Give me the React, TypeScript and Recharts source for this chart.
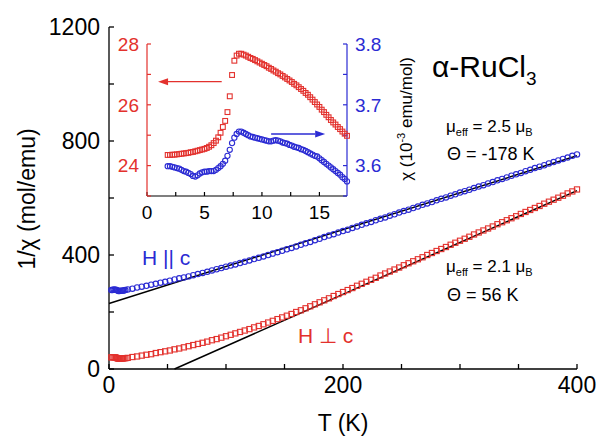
import React from 'react';
import { ComposedChart, Scatter, Line, XAxis, YAxis, ReferenceLine } from 'recharts';

const FONT = '"Liberation Sans", Arial, sans-serif';
const RED = '#e3312d';
const BLUE = '#2b2bd3';

// ── main panel: 1/chi vs T ────────────────────────────────────────────────
const mainT = [
  2, 3, 4, 5, 6, 7, 8, 9, 10, 11, 12, 13, 14,
  16, 20, 24, 28, 32, 36, 40, 44, 48, 52, 56, 60, 64, 68, 72, 76, 80, 84, 88, 92, 96,
  100, 104, 108, 112, 116, 120, 124, 128, 132, 136, 140, 144, 148, 152, 156, 160, 164, 168, 172, 176,
  180, 184, 188, 192, 196, 200, 204, 208, 212, 216, 220, 224, 228, 232, 236, 240, 244, 248, 252, 256,
  260, 264, 268, 272, 276, 280, 284, 288, 292, 296, 300, 304, 308, 312, 316, 320, 324, 328, 332, 336,
  340, 344, 348, 352, 356, 360, 364, 368, 372, 376, 380, 384, 388, 392, 396, 400,
];
// H || c
const invChiPara = [
  277, 277, 279, 278, 278, 276, 274, 274, 275, 275, 275, 276, 277,
  279, 282, 286, 289, 292, 296, 299, 303, 306, 310, 314, 318, 321, 325, 329, 333, 337, 341, 346, 350, 354,
  359, 363, 367, 372, 376, 381, 386, 390, 395, 400, 405, 410, 415, 420, 425, 430, 436, 441, 446, 452,
  457, 463, 468, 473, 479, 484, 489, 495, 500, 506, 511, 516, 522, 527, 532, 538, 543, 549, 554, 559,
  565, 570, 576, 581, 586, 592, 597, 602, 608, 613, 619, 624, 629, 635, 640, 645, 651, 656, 662, 667,
  672, 678, 683, 688, 694, 699, 705, 710, 715, 721, 726, 732, 737, 742, 748, 753,
];
// H ⊥ c
const invChiPerp = [
  41, 41, 41, 41, 40, 38, 36, 36, 37, 37, 37, 38, 38,
  39, 42, 44, 47, 50, 52, 56, 59, 62, 65, 69, 72, 76, 80, 84, 88, 92, 96, 101, 105, 110,
  115, 120, 125, 130, 135, 140, 146, 151, 157, 163, 169, 175, 181, 187, 193, 200, 206, 213, 220, 227,
  234, 241, 248, 256, 263, 270, 277, 284, 292, 299, 306, 313, 320, 328, 335, 342, 349, 356, 364, 371,
  378, 385, 392, 400, 407, 414, 421, 428, 436, 443, 450, 457, 464, 472, 479, 486, 493, 500, 508, 515,
  522, 529, 536, 544, 551, 558, 565, 572, 580, 587, 594, 601, 608, 616, 623, 630,
];
// Curie-Weiss fits (end points)
const fitParaT = [0, 400];
const fitParaV = [230, 748];
const fitPerpT = [56, 400];
const fitPerpV = [0, 626];

const mainXTicks = [0, 50, 100, 150, 200, 250, 300, 350, 400];
const mainYTicks = [0, 200, 400, 600, 800, 1000, 1200];

// ── inset: chi vs T at low temperature ────────────────────────────────────
const insetT = [
  1.8, 2.0, 2.2, 2.4, 2.6, 2.8, 3.0, 3.2, 3.4, 3.6, 3.8, 4.0, 4.2, 4.4, 4.6, 4.8, 5.0, 5.2, 5.4, 5.6,
  5.8, 6.0, 6.2, 6.4, 6.6, 6.8, 7.0, 7.2, 7.4, 7.6, 7.8, 8.0, 8.2, 8.4, 8.6, 8.8, 9.0, 9.2, 9.4, 9.6,
  9.8, 10.0, 10.2, 10.4, 10.6, 10.8, 11.0, 11.2, 11.4, 11.6, 11.8, 12.0, 12.2, 12.4, 12.6, 12.8, 13.0,
  13.2, 13.4, 13.6, 13.8, 14.0, 14.2, 14.4, 14.6, 14.8, 15.0, 15.2, 15.4, 15.6, 15.8, 16.0, 16.2, 16.4,
  16.6, 16.8, 17.0, 17.2, 17.4,
];
const chiPerp = [
  24.35, 24.35, 24.36, 24.36, 24.37, 24.38, 24.39, 24.40, 24.41, 24.42, 24.44, 24.45, 24.47, 24.49,
  24.51, 24.53, 24.55, 24.58, 24.62, 24.67, 24.74, 24.82, 24.93, 25.08, 25.27, 25.47, 25.76, 26.28,
  26.98, 27.45, 27.62, 27.68, 27.68, 27.65, 27.62, 27.58, 27.54, 27.51, 27.47, 27.43, 27.39, 27.35,
  27.31, 27.27, 27.22, 27.18, 27.13, 27.09, 27.04, 27.00, 26.95, 26.90, 26.85, 26.80, 26.75, 26.69,
  26.64, 26.58, 26.52, 26.46, 26.39, 26.33, 26.25, 26.17, 26.09, 26.01, 25.93, 25.84, 25.76, 25.67,
  25.59, 25.50, 25.42, 25.35, 25.27, 25.20, 25.12, 25.05, 24.98,
];
const chiPara = [
  3.599, 3.599, 3.598, 3.597, 3.596, 3.595, 3.593, 3.591, 3.590, 3.588, 3.586, 3.583, 3.582, 3.584,
  3.587, 3.589, 3.590, 3.590, 3.591, 3.591, 3.591, 3.593, 3.596, 3.599, 3.603, 3.608, 3.616, 3.626,
  3.637, 3.646, 3.652, 3.656, 3.656, 3.654, 3.652, 3.650, 3.648, 3.647, 3.646, 3.645, 3.644, 3.643,
  3.642, 3.641, 3.640, 3.640, 3.641, 3.642, 3.641, 3.640, 3.638, 3.637, 3.636, 3.634, 3.633, 3.631,
  3.630, 3.629, 3.627, 3.626, 3.624, 3.622, 3.620, 3.618, 3.616, 3.615, 3.612, 3.609, 3.606, 3.603,
  3.600, 3.597, 3.594, 3.591, 3.588, 3.585, 3.581, 3.578, 3.574,
];
const insetXTicks = [0, 2.5, 5, 7.5, 10, 12.5, 15];
const insetRedTicks = [23, 24, 25, 26, 27, 28];
const insetBlueTicks = [3.55, 3.6, 3.65, 3.7, 3.75, 3.8];

const zip = (xs: number[], ys: number[]) => xs.map((T, i) => ({ T, v: ys[i] }));

const mainPara = zip(mainT, invChiPara);
const mainPerp = zip(mainT, invChiPerp);
const fitPara = zip(fitParaT, fitParaV);
const fitPerp = zip(fitPerpT, fitPerpV);
const insetPerp = zip(insetT, chiPerp);
const insetPara = zip(insetT, chiPara);

// ── marker shapes ─────────────────────────────────────────────────────────
const square = (half: number) => (p: any) => (
  <rect x={p.cx - half} y={p.cy - half} width={half * 2} height={half * 2} fill="none" stroke={RED} strokeWidth={1.1} />
);
const ring = (r: number) => (p: any) => (
  <circle cx={p.cx} cy={p.cy} r={r} fill="none" stroke={BLUE} strokeWidth={1.1} />
);

const arrow = (color: string) => (p: any) => {
  const { x1, y1, x2, y2 } = p;
  const dir = Math.sign(x2 - x1);
  const hx = x2 - dir * 10;
  return (
    <g>
      <line x1={x1} y1={y1} x2={hx} y2={y2} stroke={color} strokeWidth={1.3} />
      <polygon points={`${x2},${y2} ${hx},${y2 - 3.5} ${hx},${y2 + 3.5}`} fill={color} />
    </g>
  );
};

const labelEvery = (step: number) => (v: number) =>
  Math.abs(v / step - Math.round(v / step)) < 1e-6 ? String(v) : '';
const blank = () => '';

export default function App() {
  return (
    <div style={{ position: 'absolute', left: 0, top: 0, width: 598, height: 442, background: '#fff', fontFamily: FONT }}>
      <div style={{ position: 'absolute', left: 0, top: 0 }}>
        <ComposedChart width={598} height={442} margin={{ top: 27, right: 21, bottom: 0, left: 0 }}>
          <XAxis
            dataKey="T" type="number" domain={[0, 400]} ticks={mainXTicks} interval={0}
            height={73} stroke="#000" strokeWidth={1.3} tickSize={-5} tickMargin={13}
            tick={{ fill: '#000', fontSize: 23 }} tickFormatter={labelEvery(200)}
          />
          <XAxis
            xAxisId="top" orientation="top" type="number" domain={[0, 400]} ticks={mainXTicks}
            interval={0} height={0} stroke="#000" strokeWidth={1.3} tickSize={-5} tickFormatter={blank}
          />
          <YAxis
            type="number" domain={[0, 1200]} ticks={mainYTicks} interval={0} width={109}
            stroke="#000" strokeWidth={1.3} tickSize={-5} tickMargin={14}
            tick={{ fill: '#000', fontSize: 23 }} tickFormatter={labelEvery(400)}
          />
          <YAxis
            yAxisId="right" orientation="right" type="number" domain={[0, 1200]} ticks={mainYTicks}
            interval={0} width={0} stroke="#000" strokeWidth={1.3} tickSize={-5} tickFormatter={blank}
          />
          <Scatter data={mainPara} dataKey="v" shape={ring(2.7)} isAnimationActive={false} />
          <Scatter data={mainPerp} dataKey="v" shape={square(2.6)} isAnimationActive={false} />
          <Line data={fitPara} dataKey="v" type="linear" stroke="#000" strokeWidth={1.5} dot={false} isAnimationActive={false} />
          <Line data={fitPerp} dataKey="v" type="linear" stroke="#000" strokeWidth={1.5} dot={false} isAnimationActive={false} />
        </ComposedChart>
      </div>

      {/* inset */}
      <div style={{ position: 'absolute', left: 100, top: 20 }}>
        <ComposedChart width={320} height={215} margin={{ top: 24, right: 0, bottom: 0, left: 0 }}>
          <XAxis
            dataKey="T" type="number" domain={[0, 17.4]} ticks={insetXTicks} interval={0}
            height={39} stroke="#000" strokeWidth={1.2} tickSize={-4} tickMargin={14}
            tick={{ fill: '#000', fontSize: 19 }} tickFormatter={labelEvery(5)}
          />
          <XAxis
            xAxisId="top" orientation="top" type="number" domain={[0, 17.4]} ticks={insetXTicks}
            interval={0} height={0} stroke="#222" strokeWidth={1.2} tickSize={-4} tickFormatter={blank}
          />
          <YAxis
            yAxisId="red" type="number" domain={[23, 28]} ticks={insetRedTicks} interval={0} width={47}
            stroke={RED} strokeWidth={1.2} tickSize={-4} tickMargin={12}
            tick={{ fill: RED, fontSize: 19 }} tickFormatter={labelEvery(2)}
          />
          <YAxis
            yAxisId="blue" orientation="right" type="number" domain={[3.55, 3.8]} ticks={insetBlueTicks}
            interval={0} width={73} stroke={BLUE} strokeWidth={1.2} tickSize={-4} tickMargin={12}
            tick={{ fill: BLUE, fontSize: 19 }} tickFormatter={(v: number) => (labelEvery(0.1)(v) ? v.toFixed(1) : '')}
          />
          <Scatter yAxisId="red" data={insetPerp} dataKey="v" shape={square(2.4)} isAnimationActive={false} />
          <Scatter yAxisId="blue" data={insetPara} dataKey="v" shape={ring(2.6)} isAnimationActive={false} />
          <ReferenceLine yAxisId="red" segment={[{ x: 6.5, y: 26.76 }, { x: 0.96, y: 26.76 }]} shape={arrow(RED)} />
          <ReferenceLine yAxisId="blue" segment={[{ x: 10.8, y: 3.652 }, { x: 15.5, y: 3.652 }]} shape={arrow(BLUE)} />
        </ComposedChart>
      </div>

      {/* annotations */}
      <svg width={598} height={442} style={{ position: 'absolute', left: 0, top: 0, pointerEvents: 'none' }}>
        <text transform="translate(35,199) rotate(-90)" textAnchor="middle" fontSize={23} fill="#000">
          1/χ (mol/emu)
        </text>
        <text x={343} y={431} textAnchor="middle" fontSize={23} fill="#000">T (K)</text>

        <text transform="translate(412,119) rotate(-90)" textAnchor="middle" fontSize={17} fill="#000">
          χ (10<tspan dy={-7} fontSize={11}>-3</tspan><tspan dy={7}> emu/mol)</tspan>
        </text>

        <text x={432} y={77} fontSize={30} fill="#000">
          α-RuCl<tspan dy={8} fontSize={19}>3</tspan>
        </text>

        <text x={446} y={132} fontSize={17} fill="#000">
          μ<tspan dy={4} fontSize={11}>eff</tspan><tspan dy={-4}> = 2.5 μ</tspan><tspan dy={4} fontSize={11}>B</tspan>
        </text>
        <text x={447} y={160} fontSize={18} fill="#000">Θ = -178 K</text>

        <text x={446} y={272} fontSize={17} fill="#000">
          μ<tspan dy={4} fontSize={11}>eff</tspan><tspan dy={-4}> = 2.1 μ</tspan><tspan dy={4} fontSize={11}>B</tspan>
        </text>
        <text x={447} y={301} fontSize={18} fill="#000">Θ = 56 K</text>

        <text x={142} y={265} fontSize={21} fill={BLUE}>H || c</text>
        <text x={298} y={343} fontSize={21} fill={RED}>H ⊥ c</text>
      </svg>
    </div>
  );
}
